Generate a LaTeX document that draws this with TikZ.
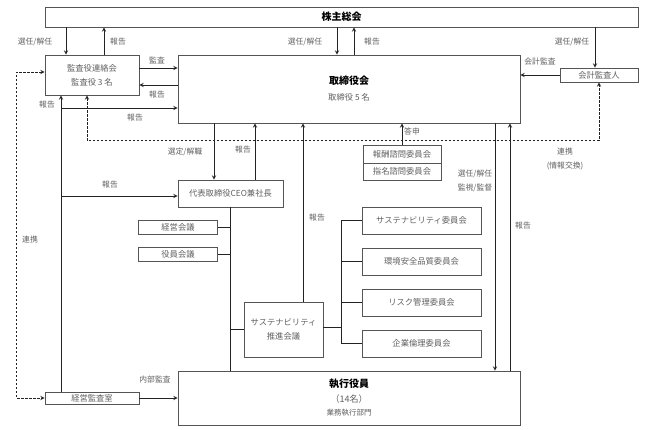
\documentclass[tikz,border=0pt]{standalone}
\usepackage{fontspec}
\setmainfont{Noto Sans CJK JP}
\usetikzlibrary{arrows,positioning,calc}
\definecolor{boxgray}{RGB}{85,85,85}
\definecolor{textgray}{RGB}{95,95,95}
\definecolor{linedark}{RGB}{35,35,35}

\begin{document}
\begin{tikzpicture}[x=1pt, y=-1pt,
        block/.style={rectangle, draw=boxgray, line width=0.8pt, inner sep=0pt, align=center, text=textgray, font=\fontsize{8.3}{14}\selectfont},
        lbl/.style={inner sep=0pt, text=textgray, font=\fontsize{7.8}{14}\selectfont, align=center},
        arrow/.style={->, line width=0.9pt, draw=linedark, >=stealth},
        line/.style={line width=0.9pt, draw=linedark},
        link/.style={<->, dash pattern=on 2.5pt off 1.5pt, line width=0.9pt, draw=linedark, >=stealth}
    ]
        \useasboundingbox (0,0) rectangle (647,430);

        % Main bodies
        \node[block, minimum width=593pt, minimum height=20pt] (agm) at (341.5,17) {\textcolor{black}{\fontsize{10}{12}\selectfont\bfseries 株主総会}};
        \node[block, minimum width=94pt, minimum height=40pt] (audit) at (92,75) {監査役連絡会\\監査役 3 名};
        \node[block, minimum width=342pt, minimum height=68pt] (board) at (349,89) {\textcolor{black}{\fontsize{10}{12}\selectfont\bfseries 取締役会}\\[2pt] 取締役 5 名};
        \node[block, minimum width=78pt, minimum height=14pt] (acct) at (599,75) {会計監査人};
        \node[block, minimum width=105pt, minimum height=27pt] (ceo) at (230.5,193.5) {代表取締役CEO兼社長};
        \node[block, minimum width=342pt, minimum height=54pt] (exec) at (349,398) {\textcolor{black}{\fontsize{10}{12}\selectfont\bfseries 執行役員}\\[1pt] {\fontsize{9}{12}\selectfont（14名）}\\[-1pt] {\fontsize{7.5}{12}\selectfont 業務執行部門}};
        \node[block, minimum width=94pt, minimum height=12pt] (iaudit) at (92,398) {経営監査室};

        % Meetings under CEO
        \node[block, minimum width=79pt, minimum height=14pt] (mgmt) at (178,227) {経営会議};
        \node[block, minimum width=79pt, minimum height=14pt] (offc) at (178,254) {役員会議};
        \node[block, minimum width=79pt, minimum height=55pt] (promo) at (283.5,329.5) {サステナビリティ\\推進会議};

        % Advisory committees
        \node[block, minimum width=78pt, minimum height=18pt] (reward) at (402,154) {報酬諮問委員会};
        \node[block, minimum width=78pt, minimum height=17pt] (nomin) at (402,171.5) {指名諮問委員会};

        % Committees
        \foreach \n/\y/\t in {comA/220.5/サステナビリティ委員会, comB/261.5/環境安全品質委員会, comC/302.5/リスク管理委員会, comD/343.5/企業倫理委員会}
            \node[block, minimum width=119pt, minimum height=27pt] (\n) at (421.5,\y) {\t};
        \coordinate (bus) at (341,0);

        % Shareholders
        \draw[arrow] ([xshift=-26pt]audit.north |- agm.south) -- ([xshift=-26pt]audit.north);
        \draw[arrow] ([xshift=12pt]audit.north) -- ([xshift=12pt]audit.north |- agm.south);
        \draw[arrow] ([xshift=-12pt]board.north |- agm.south) -- ([xshift=-12pt]board.north);
        \draw[arrow] ([xshift=5pt]board.north) -- ([xshift=5pt]board.north |- agm.south);
        \draw[arrow] ([xshift=-4pt]acct.north |- agm.south) -- ([xshift=-4pt]acct.north);
        \node[lbl] (t1) at (35,42) {選任/解任};
        \node[lbl] (t2) at (118,42) {報告};
        \node[lbl] (t3) at (305,42) {選任/解任};
        \node[lbl] (t4) at (372,42) {報告};
        \node[lbl] (t5) at (572,42) {選任/解任};

        % Audit
        \draw[arrow] ([yshift=7pt]audit.east) -- ([yshift=7pt]audit.east -| board.west);
        \draw[arrow] ([yshift=-10pt]audit.east -| board.west) -- ([yshift=-10pt]audit.east);
        \draw[arrow] (acct.west) -- (acct.west -| board.east);
        \node[lbl] (t6) at (157,60) {監査};
        \node[lbl] (t7) at (157,95) {報告};
        \node[lbl] (t8) at (540,62) {会計監査};

        % Reports from internal audit
        \draw[arrow] ([xshift=-31pt]iaudit.north) -- ([xshift=-31pt]audit.south);
        \coordinate (rA) at (61,108);
        \coordinate (rB) at (61,196);
        \draw[arrow] (rA) -- (rA -| board.west);
        \draw[arrow] (rB) -- (rB -| ceo.west);
        \draw[arrow] (iaudit.east) -- (iaudit.east -| exec.west);
        \node[lbl] (t9) at (47,105) {報告};
        \node[lbl] (t10) at (135,118) {報告};
        \node[lbl] (t11) at (110,185) {報告};
        \node[lbl] (t12) at (155,380) {内部監査};

        % Cooperation
        \draw[link] ([xshift=-5pt]audit.south) -- ++(0,45) -| (acct.south);
        \draw[link] ([yshift=3pt]audit.west) -- ++(-28,0) |- (iaudit.west);
        \node[lbl] (t13) at (565,158.5) {連携\\(情報交換)};
        \node[lbl] (t14) at (30,240) {連携};

        % Board and CEO
        \draw[arrow] ([xshift=-16.5pt]ceo.north |- board.south) -- ([xshift=-16.5pt]ceo.north);
        \draw[arrow] ([xshift=24.5pt]ceo.north) -- ([xshift=24.5pt]ceo.north |- board.south);
        \node[lbl] (t15) at (185,152) {選定/解職};
        \node[lbl] (t16) at (243,150) {報告};
        \draw[line] (ceo.south) -- (ceo.south |- exec.north);
        \draw[line] (mgmt.east) -- (mgmt.east -| ceo.south);
        \draw[line] (offc.east) -- (offc.east -| ceo.south);
        \draw[line] (promo.west) -- (promo.west -| ceo.south);

        % Sustainability
        \draw[arrow] ([xshift=19.5pt]promo.north) -- ([xshift=19.5pt]promo.north |- board.south);
        \node[lbl] (t17) at (317,218) {報告};
        \draw[line] ([yshift=2pt]promo.east) -- ([yshift=2pt]promo.east -| bus);
        \draw[line] (comA.west -| bus) -- (comD.west -| bus);
        \foreach \n in {comA,comB,comC,comD}
            \draw[line] (\n.west -| bus) -- (\n.west);

        % Advisory
        \draw[arrow] (reward.north) -- (reward.north |- board.south);
        \node[lbl] (t18) at (412,131) {答申};

        % Board and executives
        \draw[arrow] ([xshift=146pt]board.south) -- ([xshift=146pt]exec.north);
        \draw[arrow] ([xshift=161pt]exec.north) -- ([xshift=161pt]board.south);
        \node[lbl] (t19) at (475,181) {選任/解任\\監視/監督};
        \node[lbl] (t20) at (523,226) {報告};

    \end{tikzpicture}
\end{document}
